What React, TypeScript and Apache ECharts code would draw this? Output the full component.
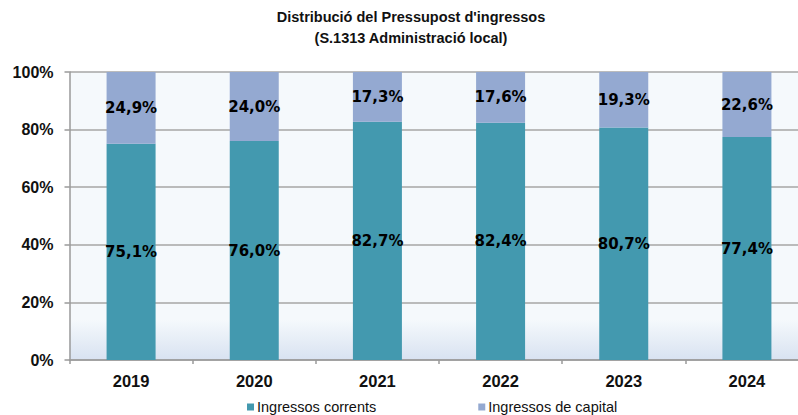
import React, { useEffect, useRef } from "react";
import * as echarts from "echarts";

const categories = ["2019", "2020", "2021", "2022", "2023", "2024"];
const corrents = [75.1, 76.0, 82.7, 82.4, 80.7, 77.4];
const capital = [24.9, 24.0, 17.3, 17.6, 19.3, 22.6];
const seriesNames = ["Ingressos corrents", "Ingressos de capital"];
const titleLines = ["Distribució del Pressupost d'ingressos", "(S.1313 Administració local)"];

const fmt = (v: number) => v.toFixed(1).replace(".", ",") + "%";

export default function App() {
  const ref = useRef<HTMLDivElement>(null);
  useEffect(() => {
    document.body.style.margin = "0";
    if (!ref.current) return;
    const chart = echarts.init(ref.current, undefined, { renderer: "svg" });
    const labelStyle = {
      show: true,
      position: "inside" as const,
      color: "#000",
      fontFamily: "DejaVu Sans",
      fontWeight: "bold" as const,
      fontSize: 15,
      formatter: (p: any) => fmt(p.value),
    };
    chart.setOption({
      animation: false,
      backgroundColor: "#fff",
      title: {
        text: titleLines.join("\n"),
        left: 411,
        top: 6,
        padding: 0,
        textAlign: "center",
        textStyle: {
          fontFamily: "Liberation Sans",
          fontWeight: "bold",
          fontSize: 14.5,
          lineHeight: 21,
          color: "#111",
        },
      },
      legend: {
        left: 247,
        top: 399.5,
        padding: 0,
        itemWidth: 7,
        itemHeight: 7,
        itemGap: 102,
        icon: "rect",
        textStyle: { fontFamily: "Liberation Sans", fontSize: 14.5, color: "#111", padding: [0, 0, 0, -2] },
        data: seriesNames,
      },
      grid: {
        left: 69.5,
        top: 72,
        height: 288,
        width: 739,
        show: true,
        borderWidth: 0,
        backgroundColor: {
          type: "linear",
          x: 0,
          y: 0,
          x2: 0,
          y2: 1,
          colorStops: [
            { offset: 0, color: "#f5f9fc" },
            { offset: 0.86, color: "#f5f9fc" },
            { offset: 1, color: "#d8e2f1" },
          ],
        },
      },
      xAxis: {
        type: "category",
        data: categories,
        axisLine: { show: true, lineStyle: { color: "#9a9a9a", width: 1.5 } },
        axisTick: { show: true, length: 4, lineStyle: { color: "#9a9a9a", width: 1.5 } },
        axisLabel: {
          margin: 12,
          color: "#111",
          fontFamily: "Liberation Sans",
          fontWeight: "bold",
          fontSize: 16.5,
        },
      },
      yAxis: {
        type: "value",
        min: 0,
        max: 100,
        interval: 20,
        axisLine: { show: true, lineStyle: { color: "#9a9a9a", width: 1.5 } },
        axisTick: { show: true, length: 5, lineStyle: { color: "#9a9a9a", width: 1.5 } },
        splitLine: { show: true, lineStyle: { color: "#a6a6a6", width: 1.5 } },
        axisLabel: {
          margin: 16,
          color: "#111",
          fontFamily: "Liberation Sans",
          fontWeight: "bold",
          fontSize: 16,
          formatter: (v: number) => v + "%",
        },
      },
      series: [
        {
          name: seriesNames[0],
          type: "bar",
          stack: "total",
          data: corrents,
          barWidth: 49,
          itemStyle: { color: "#4399af" },
          label: labelStyle,
        },
        {
          name: seriesNames[1],
          type: "bar",
          stack: "total",
          data: capital,
          barWidth: 49,
          itemStyle: { color: "#94a9d1" },
          label: labelStyle,
        },
      ],
    });
    return () => chart.dispose();
  }, []);
  return (
    <div style={{ width: 798, height: 415, overflow: "hidden", position: "relative" }}>
      <div ref={ref} style={{ width: 820, height: 415 }} />
    </div>
  );
}
